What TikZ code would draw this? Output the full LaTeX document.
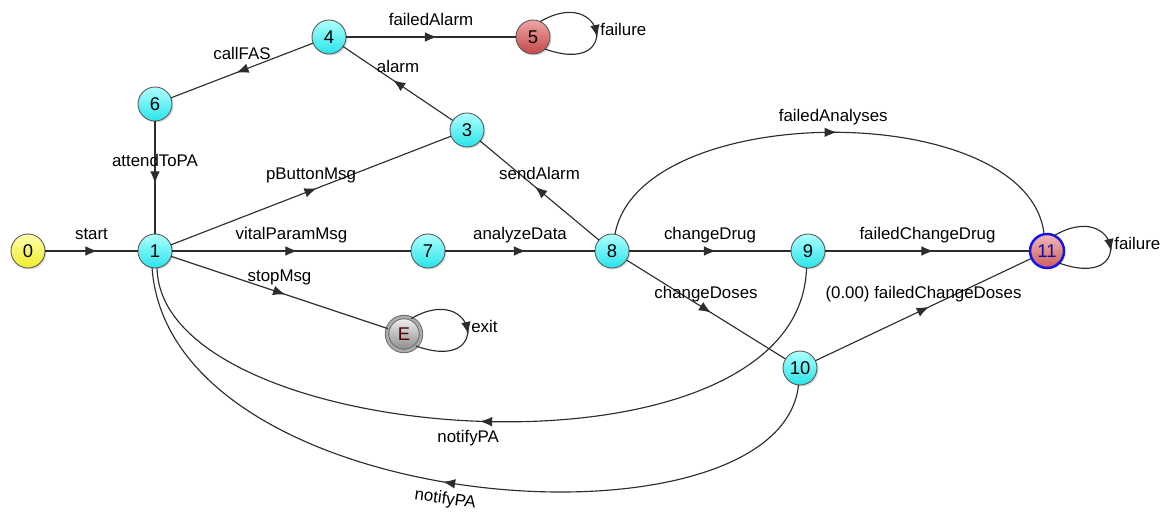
\documentclass[tikz,border=0pt]{standalone}
\usepackage{fontspec}
\setmainfont{Liberation Sans}
\usepackage{xcolor}
\usetikzlibrary{positioning, decorations.markings, arrows.meta, shadows}

\definecolor{cyanlight}{RGB}{175,255,255}
\definecolor{cyandark}{RGB}{40,228,234}
\definecolor{redlight}{RGB}{238,165,165}
\definecolor{reddark}{RGB}{196,72,72}
\definecolor{pinklight}{RGB}{242,185,185}
\definecolor{pinkdark}{RGB}{205,92,92}
\definecolor{yellowlight}{RGB}{255,255,175}
\definecolor{yellowdark}{RGB}{240,236,40}
\definecolor{greylight}{RGB}{242,242,242}
\definecolor{greydark}{RGB}{135,135,135}
\definecolor{errblue}{RGB}{20,20,235}
\definecolor{linegrey}{RGB}{45,45,45}

\tikzset{
  stnode/.style={circle, draw=black!65, line width=0.5pt, minimum size=0.68cm, inner sep=0pt, outer sep=0pt,
    font=\fontsize{10.5}{12}\selectfont,
    drop shadow={shadow xshift=0.8pt, shadow yshift=-0.8pt, opacity=0.3}},
  cyanstate/.style={stnode, top color=cyanlight, bottom color=cyandark},
  yellowstate/.style={stnode, top color=yellowlight, bottom color=yellowdark},
  redstate/.style={stnode, top color=redlight, bottom color=reddark},
  errstate/.style={stnode, draw=errblue, line width=1.4pt, top color=pinklight, bottom color=pinkdark, text=errblue!70!black},
  exitstate/.style={stnode, draw=black!60, double=greydark!70, double distance=1.5pt, top color=greylight, bottom color=greydark, text=black!70!red},
  trans/.style={draw=linegrey, line width=0.65pt, postaction={decorate},
    decoration={markings, mark=at position 0.5 with {\arrow[xshift=3.5pt]{Latex[length=7pt,width=5.5pt]}}}},
  lbl/.style={font=\fontsize{9.6}{11}\selectfont, inner sep=2pt, text depth=0.3em}
}

\begin{document}
\begin{tikzpicture}[x=0.02cm, y=0.02cm]
    \useasboundingbox (0,0) rectangle (1172,512);
    % states
    \node[yellowstate] (n0) at (28,261) {0};
    \node[cyanstate] (n1) at (155,261) {1};
    \node[cyanstate] (n3) at (467,382) {3};
    \node[cyanstate] (n4) at (329,475) {4};
    \node[redstate] (n5) at (533,475) {5};
    \node[cyanstate] (n6) at (155,408) {6};
    \node[cyanstate] (n7) at (428,261) {7};
    \node[cyanstate] (n8) at (612,261) {8};
    \node[cyanstate] (n9) at (808,261) {9};
    \node[cyanstate] (n10) at (800,144) {10};
    \node[errstate] (n11) at (1047,261) {11};
    \node[exitstate] (nE) at (404,178) {E};
    % transitions
    \draw[trans] (n0) -- node[lbl, above=1pt] {start} (n1);
    \draw[trans] (n6) -- node[lbl, above=1pt] {attendToPA} (n1);
    \draw[trans] (n4) -- node[lbl, above=1pt] {callFAS} (n6);
    \draw[trans] (n3) -- node[lbl, above=1pt] {alarm} (n4);
    \draw[trans] (n4) -- node[lbl, above=1pt] {failedAlarm} (n5);
    \draw[trans] (n1) -- node[lbl, above=1pt] {pButtonMsg} (n3);
    \draw[trans] (n8) -- node[lbl, above=1pt] {sendAlarm} (n3);
    \draw[trans] (n1) -- node[lbl, above=1pt] {vitalParamMsg} (n7);
    \draw[trans] (n7) -- node[lbl, above=1pt] {analyzeData} (n8);
    \draw[trans] (n1) -- node[lbl, above=1pt] {stopMsg} (nE);
    \draw[trans] (n8) -- node[lbl, above=1pt] {changeDrug} (n9);
    \draw[trans] (n9) -- node[lbl, above=1pt] {failedChangeDrug} (n11);
    \draw[trans] (n8) -- node[lbl, above=1pt] {changeDoses} (n10);
    \draw[trans] (n10) -- node[lbl, above=1pt] {(0.00) failedChangeDoses} (n11);
    \draw[trans] (n8.80) .. controls +(25,136) and +(-15,136) .. node[lbl, above=1pt] {failedAnalyses} (n11.100);
    \draw[trans] (n9.-95) .. controls (800,17) and (160,62) .. node[lbl, below=3pt, xshift=-7pt] {notifyPA} (n1.-83);
    \draw[trans] (n10.-95) .. controls (780,-48) and (170,-8) .. node[lbl, below=3pt, pos=0.53, rotate=-8] {notifyPA} (n1.-100);
    % self loops
    \draw[trans] (n5.65) .. controls +(65,38) and +(78,-28) .. node[lbl, right] {failure} (n5.-45);
    \draw[trans] (n11.65) .. controls +(65,38) and +(78,-28) .. node[lbl, right] {failure} (n11.-45);
    \draw[trans] (nE.65) .. controls +(65,38) and +(78,-28) .. node[lbl, right] {exit} (nE.-45);
\end{tikzpicture}
\end{document}
